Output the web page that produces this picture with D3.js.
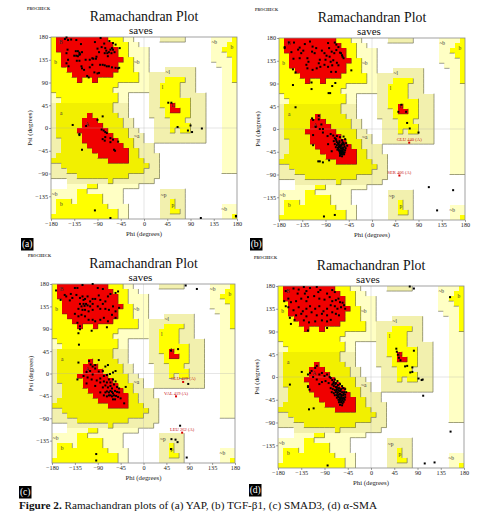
<!DOCTYPE html>
<html>
<head>
<meta charset="utf-8">
<script src="https://cdnjs.cloudflare.com/ajax/libs/d3/7.8.5/d3.min.js"></script>
<style>
  html, body { margin: 0; padding: 0; background: #fff; }
  text { font-family: "Liberation Serif", serif; }
</style>
</head>
<body>
<div id="chart"></div>
<script>
// Ramachandran regions, one row per 10 degree psi band from +180 down to -180.
// Each row is a run length list across phi from -180 to +180.
// . none, p generous, Q generous (darker), y allowed, O allowed (darker), r core
var regionRows = [
  'y1r10y3p2.5Q5.5p4y1',
  'y1r11y3p2.14p3y2',
  'y1r12y2p4.12p2y3',
  'y2r11y2p4.12p3y2',
  'y2r12y2p3.12p4y1',
  'y2r11y3p3.13p3y1',
  'y3r10y3p3.3Q6.5p2y1',
  'y4r8y5p2Q9.5p2y1',
  'y5r1y2r1y8p2Q3y4Q2.5p2y1',
  'y13p6Q2y4Q3.5p3',
  'y12p7Q2y4Q3.5p3',
  'p1y12p2.4Q2y4Q5.3p3',
  'p2y11p2.4Q2y6Q3.3p3',
  'Q1O11Q3.4Q2y2r1y3Q3.3p3',
  'Q1O11Q3.4Q3y1r2y2Q3.3p3',
  'Q1O6r1O5Q2.4Q3y5Q3.3p3',
  'Q1O5r3O5Q2.4Q3y3Q4.3p3',
  'Q1O5r4O4Q2.4Q3y4Q3.3p3',
  'Q1O4r6O4Q2.3Q3y1Q1y2Q3.3p3',
  'Q1O5r6O3Q3.2Q10.3p3',
  'Q2O4r7O3Q2.2Q10.3p3',
  'Q2O5r7O2Q4.13p3',
  'Q2O6r7O2Q3.13p3',
  'Q1O8r6O2Q4.12p3',
  'O11r4O3Q3.12p3',
  'Q2O17Q2.12p3',
  'Q3O15Q3.12p3',
  'Q5O10Q6.15',
  '.3Q8O1Q8.16',
  '.3p4y2p8.19',
  'p5y2p7.7Q5.10',
  'p5y5p4.7Q5.10',
  'p1y3p1y5p4.7Q2y1Q2.10',
  'p1y10p4.6Q2y1Q2.7p3',
  'p1y12p2.6Q2y2Q1.7p3',
  'y13p2.6Q5.7p2y1'
]

var regionColours = { p: '#ffffc4', Q: '#f2f0ae', y: '#ffff00', O: '#f2f000', r: '#f00000' }
var regionRank = { '.': 0, p: 1, Q: 1, y: 2, O: 2, r: 3 }

var regionLabels = [
  ['B', -161, 170], ['b', -171, 130], ['a', -160, 29], ['A', -110, 8], ['L', 56, 46],
  ['l', 36, 80], ['~l', 46, 110], ['~b', -14, 130], ['~a', -14, -17], ['b', 170, 160],
  ['~b', 136, 170], ['~p', 38, -132], ['p', 56, -152], ['~b', -173, -131],
  ['b', -160, -150], ['~b', 155, -160]
]

var tickValues = [-180, -135, -90, -45, 0, 45, 90, 135, 180]
var yTickValues = [-135, -90, -45, 0, 45, 90, 135, 180]

var dotsA = [
  [-153,176],[-150,179],[-147,174],[-141,175],[-131,174],[-122,166],[-95,170],[-84,178],[-77,167],[-67,172],[-60,168],
  [-148,155],[-150,148],[-132,152],[-128,152],[-125,149],[-124,146],[-120,150],[-135,143],[-131,143],[-128,142],
  [-125,145],[-147,135],[-125,133],[-130,133],[-113,135],[-105,135],[-100,138],[-98,137],[-93,137],[-92,141],
  [-87,150],[-90,157],[-82,160],[-75,158],[-73,153],[-71,148],[-76,148],[-70,142],[-65,155],[-62,158],[-60,155],
  [-57,150],[-63,148],[-68,150],[-55,165],[-47,158],[-85,125],[-80,125],[-76,124],[-72,122],[-68,122],[-62,120],
  [-55,119],[-50,118],[-48,119],[-121,122],[-120,118],[-116,115],[-105,120],[-100,125],[-96,110],[-90,108],[-87,109],
  [-110,103],[-107,100],[-146,122],[-150,128],[-138,6],[-112,4],[-90,16],[-80,23],[-125,-14],[-125,-12],[-120,-43],
  [-82,-3],[-78,-5],[-75,-8],[-80,-22],[-76,-25],[-65,-28],[-60,-23],[-50,-27],[-65,-20],[-72,-10],[-58,-43],[-56,-45],
  [-75,-18],[47,50],[53,50],[65,2],[90,5],[85,-5],[93,-8],[112,-1],[-95,-163],[-65,-178],[110,-178],[178,-174],[178,-175]
]

var dotsB = [
  [-169,160],[-161,171],[-151,171],[-169,162],[-156,152],[-143,157],[-140,161],[-120,173],[-116,153],[-111,150],
  [-115,163],[-152,139],[-140,140],[-125,140],[-127,127],[-123,133],[-101,137],[-103,130],[-90,137],[-85,170],
  [-72,171],[-69,167],[-78,153],[-73,150],[-69,156],[-62,151],[-57,143],[-55,140],[-58,146],[-82,143],[-80,133],
  [-77,126],[-75,136],[-68,131],[-65,126],[-85,123],[-79,113],[-70,113],[-92,127],[-100,123],[-107,120],[-115,117],
  [-125,120],[-153,118],[-148,112],[-130,168],[-137,150],[-133,155],[-108,160],[-97,155],[-92,150],[-88,145],[-83,160],
  [-65,162],[-60,150],[-153,87],[-117,79],[-117,92],[-77,85],[-71,91],[-84,71],[-81,71],[-40,116],[-148,43],
  [-116,21],[-114,18],[-103,26],[-103,19],[-109,4],[-98,9],[-95,0],[-114,-12],[-114,-32],[-101,0],[-95,-7],[-86,-14],
  [-80,-10],[-75,-13],[-72,-18],[-68,-14],[-62,-16],[-55,-15],[-74,-24],[-70,-20],[-68,-26],[-63,-24],[-58,-22],[-52,-20],
  [-72,-30],[-68,-32],[-65,-30],[-62,-32],[-58,-30],[-55,-28],[-50,-28],[-70,-36],[-66,-37],[-63,-36],[-60,-38],[-56,-37],
  [-53,-35],[-48,-33],[-67,-41],[-64,-42],[-61,-42],[-58,-42],[-55,-41],[-52,-42],[-62,-46],[-59,-46],[-56,-46],[-53,-46],
  [-60,-50],[-57,-50],[-54,-50],[-62,-53],[-58,-54],[-78,-44],[-85,-30],[-104,-64],[-101,-64],[-95,-66],[-83,-62],
  [-64,-34],[-61,-35],[-59,-33],[-57,-39],[-65,-39],[-63,-44],[-60,-44],[-57,-44],[-55,-48],[-59,-48],[-62,-49],[-66,-28],
  [-63,-27],[-69,-23],[-57,-26],[-54,-31],[-51,-38],
  [57,48],[51,34],[66,34],[68,12],[73,1],[90,-7],[110,-115],[157,-121],[126,-161],[-93,-173],[-72,-170]
]

var dotsC = [
  [-172,167],[-163,148],[-155,158],[-152,155],[-143,160],[-135,172],[-130,172],[-120,178],[-100,180],[-90,172],[-80,170],
  [-145,147],[-140,152],[-132,158],[-125,152],[-120,155],[-118,148],[-115,150],[-110,155],[-105,145],[-100,150],[-95,150],
  [-88,157],[-85,148],[-80,140],[-75,145],[-70,155],[-65,160],[-55,162],[-50,165],[-125,140],[-122,135],[-118,140],
  [-116,136],[-113,140],[-110,137],[-105,135],[-100,140],[-128,130],[-120,128],[-115,128],[-108,125],[-100,128],[-90,135],
  [-85,130],[-75,130],[-68,128],[-60,135],[-55,125],[-48,132],[-135,120],[-128,115],[-122,118],[-115,115],[-108,108],
  [-100,108],[-95,105],[-85,108],[-78,112],[-70,105],[-62,118],[-55,112],[-130,102],[-125,95],[-72,93],[-102,86],
  [-128,81],[-125,89],[-127,58],[-128,22],[-107,25],[-88,27],[-75,14],[-70,17],[-104,18],[-100,14],[-95,17],[-130,-12],
  [-118,-5],[-112,3],[-105,5],[-100,-2],[-95,10],[-88,4],[-80,5],[-110,-8],[-102,-12],[-92,-14],[-85,-10],[-78,-5],[-72,-3],
  [-66,-1],[-60,2],[-55,5],[-112,-20],[-95,-25],[-85,-18],[-78,-16],[-72,-18],[-68,-12],[-65,-18],[-60,-12],[-55,-16],
  [-80,-28],[-75,-24],[-70,-28],[-65,-25],[-62,-30],[-58,-22],[-52,-27],[-48,-30],[-35,-27],[-85,-38],[-78,-44],[-75,-38],
  [-72,-36],[-68,-38],[-65,-35],[-62,-37],[-60,-40],[-56,-35],[-52,-37],[-48,-38],[-72,-46],[-68,-44],[-65,-44],[-62,-46],
  [-58,-44],[-54,-45],[-50,-47],[-60,-52],[-56,-52],[-45,-50],[-38,-60],
  [68,49],[54,46],[88,-21],[105,170],[83,177],[72,-105],[55,-132],[63,-133],[67,-138],[54,-152],[85,-169],[-93,-162],[-93,-175]
]

var dotsD = [
  [-165,170],[-150,175],[-140,173],[-130,178],[-118,176],[-105,178],[-98,172],[-75,172],[-70,168],[-142,165],[-128,165],
  [-125,170],[-102,168],[-85,165],[-168,150],[-160,155],[-155,148],[-145,150],[-135,155],[-125,150],[-122,158],[-110,160],
  [-100,155],[-90,153],[-80,158],[-75,150],[-68,152],[-63,155],[-60,148],[-55,147],[-52,142],[-165,140],[-160,138],
  [-150,132],[-140,138],[-132,130],[-125,135],[-118,140],[-108,135],[-100,140],[-92,130],[-85,135],[-78,142],[-70,140],
  [-65,135],[-58,138],[-50,135],[-145,122],[-135,125],[-125,120],[-115,128],[-105,122],[-95,125],[-85,122],[-75,128],
  [-68,125],[-62,122],[-157,117],[-155,105],[-148,113],[-130,112],[-120,108],[-108,110],[-95,112],[-85,110],[-78,113],
  [-122,92],[-85,97],[-134,10],[-120,-64],[-111,-62],[-122,-18],[-119,-25],[-122,-20],[-157,-15],[-122,5],[-118,8],[-115,12],
  [-108,18],[-105,22],[-112,0],[-105,-5],[-100,5],[-95,8],[-90,2],[-85,5],[-80,0],[-100,-14],[-95,-10],[-88,-8],[-82,-12],
  [-78,-2],[-75,-6],[-72,-10],[-70,-5],[-68,-12],[-65,-8],[-75,-15],[-72,-18],[-68,-20],[-64,-16],[-60,-14],[-56,-18],
  [-78,-22],[-74,-24],[-70,-26],[-66,-24],[-62,-22],[-58,-24],[-54,-22],[-50,-24],[-76,-30],[-72,-32],[-68,-30],[-64,-30],
  [-60,-28],[-56,-30],[-52,-30],[-48,-30],[-70,-36],[-66,-36],[-62,-35],[-58,-35],[-54,-36],[-50,-35],[-66,-41],[-62,-40],
  [-58,-40],[-54,-41],[-50,-40],[-63,-45],[-59,-45],[-55,-46],[-51,-45],[-62,-50],[-58,-50],[-55,-52],[-60,-55],[-56,-56],
  [-67,-27],[-63,-26],[-59,-26],[-65,-33],[-60,-33],[-57,-37],[-53,-33],[-64,-38],[-60,-43],[-56,-43],[-52,-43],[-57,-48],
  [-61,-47],[-53,-49],[-69,-14],[-73,-13],[-66,-20],
  [49,56],[50,50],[52,44],[54,38],[57,33],[83,52],[66,21],[70,22],[80,19],[76,9],[80,10],[92,-3],[98,-6],[100,-5],
  [101,-37],[154,-108],[104,-171],[123,-169],[-84,-175],[75,179],[83,175],[153,158]
]

var outlierLabelsB = [['GLU 440 (A)', 72, -27], ['SER 406 (A)', 53, -92]]
var outlierLabelsC = [['GLU 429 (A)', 78, -17], ['VAL 419 (A)', 64, -46], ['LEU 262 (A)', 76, -119]]

var panels = [
  { badge: '(a)', x: [51, 237], y: [37, 219], dots: dotsA, outliers: [], badgeAt: [21, 238] },
  { badge: '(b)', x: [279, 465], y: [38, 220], dots: dotsB, outliers: outlierLabelsB, badgeAt: [250, 238] },
  { badge: '(c)', x: [52, 235], y: [284, 463], dots: dotsC, outliers: outlierLabelsC, badgeAt: [19, 486] },
  { badge: '(d)', x: [278, 464], y: [286, 468], dots: dotsD, outliers: [], badgeAt: [249, 484] }
]

// expand 'y1r10...' into one letter per 10 degree phi column
function expandRow(row) {
  var out = []
  var re = /([.pQyOr])(\d+)/g
  var m
  while ((m = re.exec(row))) {
    for (var i = 0; i < +m[2]; i++) out.push(m[1])
  }
  if (out.length != 36) throw new Error('bad row ' + row + ' ' + out.length)
  return out
}

var grid = regionRows.map(expandRow)

var svg = d3.select('#chart').append('svg')
  .attr('width', 484)
  .attr('height', 515)
  .style('display', 'block')

panels.forEach(drawPanel)

function drawPanel(p) {
  var x = d3.scaleLinear().domain([-180, 180]).range(p.x)
  var y = d3.scaleLinear().domain([-180, 180]).range([p.y[1], p.y[0]])
  var g = svg.append('g')
  var cx = (p.x[0] + p.x[1]) / 2

  var cells = []
  var edges = []
  grid.forEach(function(row, r) {
    row.forEach(function(k, c) {
      var phi = -180 + c * 10
      var psi = 180 - r * 10
      if (k != '.') cells.push({ k: k, phi: phi, psi: psi })
      var rank = regionRank[k]
      if (c < 35 && rank > regionRank[row[c + 1]]) {
        edges.push({ x1: phi + 10, y1: psi, x2: phi + 10, y2: psi - 10, rank: rank })
      }
      if (r < 35 && rank > regionRank[grid[r + 1][c]]) {
        edges.push({ x1: phi, y1: psi - 10, x2: phi + 10, y2: psi - 10, rank: rank })
      }
    })
  })

  g.selectAll('rect.cell').data(cells).enter().append('rect')
    .attr('class', 'cell')
    .attr('x', function(d) { return x(d.phi) })
    .attr('y', function(d) { return y(d.psi) })
    .attr('width', function(d) { return x(d.phi + 10) - x(d.phi) })
    .attr('height', function(d) { return y(d.psi - 10) - y(d.psi) })
    .attr('fill', function(d) { return regionColours[d.k] })
    .attr('shape-rendering', 'crispEdges')

  g.selectAll('line.edge').data(edges).enter().append('line')
    .attr('class', 'edge')
    .attr('x1', function(d) { return x(d.x1) })
    .attr('x2', function(d) { return x(d.x2) })
    .attr('y1', function(d) { return y(d.y1) })
    .attr('y2', function(d) { return y(d.y2) })
    .attr('stroke', function(d) { return d.rank == 3 ? '#7a2020' : '#77775a' })
    .attr('stroke-width', 0.7)

  // zero lines and frame
  g.append('line').attr('x1', x(0)).attr('x2', x(0)).attr('y1', y(180)).attr('y2', y(-180))
    .attr('stroke', '#aaa').attr('stroke-opacity', 0.5).attr('stroke-width', 0.6)
  g.append('line').attr('x1', x(-180)).attr('x2', x(180)).attr('y1', y(0)).attr('y2', y(0))
    .attr('stroke', '#aaa').attr('stroke-opacity', 0.5).attr('stroke-width', 0.6)
  g.append('rect')
    .attr('x', p.x[0]).attr('y', p.y[0])
    .attr('width', p.x[1] - p.x[0]).attr('height', p.y[1] - p.y[0])
    .attr('fill', 'none').attr('stroke', '#8a8a8a').attr('stroke-width', 0.8)

  g.selectAll('text.region').data(regionLabels).enter().append('text')
    .attr('class', 'region')
    .attr('x', function(d) { return x(d[1]) })
    .attr('y', function(d) { return y(d[2]) + 1.8 })
    .attr('text-anchor', 'middle')
    .attr('font-size', 5.5)
    .attr('fill', '#333')
    .text(function(d) { return d[0] })

  g.selectAll('rect.dot').data(p.dots).enter().append('rect')
    .attr('class', 'dot')
    .attr('x', function(d) { return x(d[0]) - 1 })
    .attr('y', function(d) { return y(d[1]) - 1 })
    .attr('width', 2)
    .attr('height', 2)
    .attr('fill', '#000')

  // disallowed residues are red squares with the residue name over them
  g.selectAll('rect.out').data(p.outliers).enter().append('rect')
    .attr('class', 'out')
    .attr('x', function(d) { return x(d[1]) - 1 })
    .attr('y', function(d) { return y(d[2]) - 1 })
    .attr('width', 2)
    .attr('height', 2)
    .attr('fill', '#d80000')
  g.selectAll('text.out').data(p.outliers).enter().append('text')
    .attr('class', 'out')
    .attr('x', function(d) { return x(d[1]) })
    .attr('y', function(d) { return y(d[2]) - 1.8 })
    .attr('text-anchor', 'middle')
    .attr('font-size', 4.6)
    .attr('fill', '#c81010')
    .text(function(d) { return d[0] })

  // axes
  var xAxis = d3.axisBottom(x).tickValues(tickValues).tickSize(2).tickPadding(1).tickFormat(d3.format('d'))
  var yAxis = d3.axisLeft(y).tickValues(yTickValues).tickSize(2).tickPadding(1).tickFormat(d3.format('d'))
  var gx = g.append('g').attr('transform', 'translate(0,' + p.y[1] + ')').call(xAxis)
  var gy = g.append('g').attr('transform', 'translate(' + p.x[0] + ',0)').call(yAxis)
  ;[gx, gy].forEach(function(a) {
    a.select('.domain').remove()
    a.selectAll('line').attr('stroke', '#444').attr('stroke-width', 0.5)
    a.selectAll('text')
      .attr('font-size', 6.2)
      .attr('fill', '#222')
      .style('font-family', '"Liberation Serif", serif')
  })

  g.append('text').attr('x', cx).attr('y', p.y[1] + 16.5)
    .attr('text-anchor', 'middle').attr('font-size', 6.8).attr('fill', '#222').text('Phi (degrees)')
  g.append('text')
    .attr('transform', 'translate(' + (p.x[0] - 19) + ',' + ((p.y[0] + p.y[1]) / 2) + ') rotate(-90)')
    .attr('text-anchor', 'middle').attr('font-size', 6.8).attr('fill', '#222').text('Psi (degrees)')

  // headings
  g.append('text').attr('x', p.x[0] - 24).attr('y', p.y[0] - 27)
    .attr('font-size', 4).attr('font-weight', 'bold').attr('fill', '#333').text('PROCHECK')
  g.append('text').attr('x', cx).attr('y', p.y[0] - 16)
    .attr('text-anchor', 'middle').attr('font-size', 13.8).attr('fill', '#111').text('Ramachandran Plot')
  g.append('text').attr('x', cx - 3).attr('y', p.y[0] - 3.5)
    .attr('text-anchor', 'middle').attr('font-size', 11).attr('fill', '#111').text('saves')

  // panel badge
  g.append('rect').attr('x', p.badgeAt[0]).attr('y', p.badgeAt[1])
    .attr('width', 12.5).attr('height', 12.5).attr('fill', '#000')
  g.append('text').attr('x', p.badgeAt[0] + 6.2).attr('y', p.badgeAt[1] + 9.2)
    .attr('text-anchor', 'middle').attr('font-size', 9.5).attr('fill', '#fff').text(p.badge)
}

var caption = svg.append('text').attr('x', 19).attr('y', 509).attr('font-size', 11.2).attr('fill', '#111')
caption.append('tspan').attr('font-weight', 'bold').text('Figure 2.')
caption.append('tspan').text(' Ramachandran plots of (a) YAP, (b) TGF-\u03b21, (c) SMAD3, (d) \u03b1-SMA')
</script>
</body>
</html>
